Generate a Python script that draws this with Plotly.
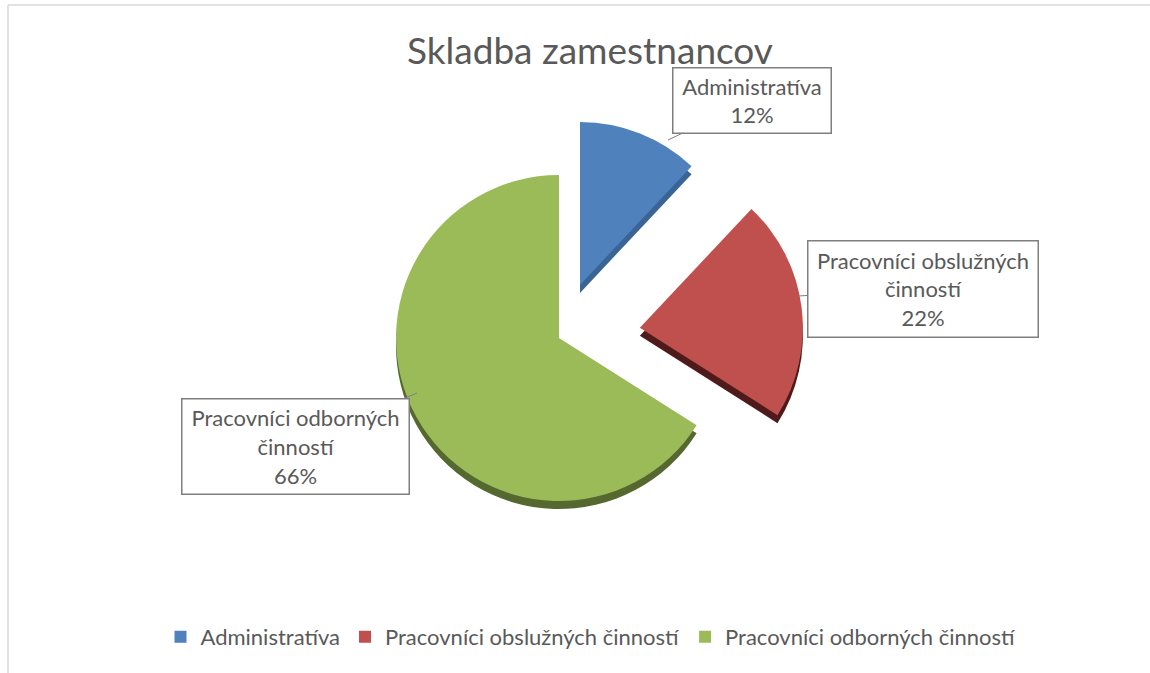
import textwrap
import plotly.graph_objects as go

# ---- data ----
categories = ["Administratíva", "Pracovníci obslužných činností", "Pracovníci odborných činností"]
values = [12, 22, 66]
colors = ["#4F81BD", "#C0504D", "#9BBB59"]
side_colors = ["#3A6396", "#4E1B1A", "#55682F"]
pulls = [0.35, 0.5, 0.0]
title_text = "Skladba zamestnancov"

W, H = 1150, 673
FONT = "Lato"
TXT = "#595959"

# pie placement (pixels)
cx, cy, R = 559, 338, 163
half = R * (1 + max(pulls))
dom_x = [(cx - half) / W, (cx + half) / W]
dom_y = [1 - (cy + half) / H, 1 - (cy - half) / H]
depth = 8 / H

fig = go.Figure()
# side / depth layer
fig.add_trace(go.Pie(
    labels=categories, values=values, sort=False, direction="clockwise", rotation=0,
    pull=pulls, marker=dict(colors=side_colors, line=dict(width=0)),
    textinfo="none", hoverinfo="skip", showlegend=False,
    domain=dict(x=dom_x, y=[dom_y[0] - depth, dom_y[1] - depth]),
))
# top face
fig.add_trace(go.Pie(
    labels=categories, values=values, sort=False, direction="clockwise", rotation=0,
    pull=pulls, marker=dict(colors=colors, line=dict(width=0)),
    textinfo="none", showlegend=True,
    domain=dict(x=dom_x, y=dom_y),
))

# callout labels: (anchor px x, y), (box center px x, y), (box w, h)
callouts = [
    ((668, 140), (752, 100), (157, 64)),
    ((798, 296), (923, 289), (229, 95)),
    ((417, 393), (295, 446), (226, 94)),
]
total = sum(values)
for cat, v, (pt, box, size) in zip(categories, values, callouts):
    lines = textwrap.wrap(cat, width=22)
    txt = "<br>".join(lines + [f"{round(v / total * 100)}%"])
    fig.add_annotation(
        x=pt[0] / W, y=1 - pt[1] / H, xref="paper", yref="paper",
        text=txt, showarrow=True, arrowhead=0, arrowwidth=1, arrowcolor="#7F7F7F",
        ax=box[0] - pt[0], ay=box[1] - pt[1],
        width=size[0], height=size[1], align="center", valign="middle",
        bgcolor="white", bordercolor="#7F7F7F", borderwidth=1.5, borderpad=0,
        font=dict(family=FONT, size=22, color=TXT),
    )

# title
fig.add_annotation(
    x=590 / W, y=1 - 50 / H, xref="paper", yref="paper", showarrow=False,
    text=title_text, font=dict(family=FONT, size=37, color=TXT),
    xanchor="center", yanchor="middle",
)

# chart frame
fig.add_shape(type="line", xref="paper", yref="paper", x0=8 / W, x1=1, y0=1 - 5 / H, y1=1 - 5 / H,
              line=dict(color="#D9D9D9", width=1.5))
fig.add_shape(type="line", xref="paper", yref="paper", x0=8 / W, x1=8 / W, y0=0, y1=1 - 5 / H,
              line=dict(color="#D9D9D9", width=1.5))

fig.update_layout(
    width=W, height=H,
    margin=dict(l=0, r=0, t=0, b=0),
    paper_bgcolor="white", plot_bgcolor="white",
    showlegend=True,
    legend=dict(orientation="h", x=591 / W, xanchor="center", y=1 - 637 / H, yanchor="middle",
                font=dict(family=FONT, size=22, color=TXT), bgcolor="rgba(0,0,0,0)"),
)

fig.write_html("out.html", config={"displayModeBar": False},
               post_script="document.body.style.margin='0';document.body.style.overflow='hidden';")
